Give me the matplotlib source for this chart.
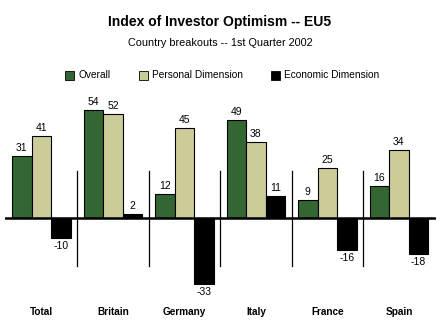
import matplotlib.pyplot as plt
import numpy as np

countries = ["Total", "Britain", "Germany", "Italy", "France", "Spain"]
overall = [31, 54, 12, 49, 9, 16]
personal = [41, 52, 45, 38, 25, 34]
economic = [-10, 2, -33, 11, -16, -18]
series_names = ["Overall", "Personal Dimension", "Economic Dimension"]
colors = ["#336633", "#CCCC99", "#000000"]

plt.rcParams['font.family'] = ['Liberation Sans', 'DejaVu Sans']

fig = plt.figure(figsize=(4.4, 3.3), dpi=100)
ax = fig.add_axes([5 / 440, 32 / 330, 431 / 440, 200 / 330])

x = np.arange(len(countries))
w = 0.273
for k, vals in enumerate([overall, personal, economic]):
    pos = x + (k - 1) * w
    ax.bar(pos, vals, w, color=colors[k], edgecolor="black", linewidth=0.8,
           label=series_names[k], zorder=2)
    for px, v in zip(pos, vals):
        if v >= 0:
            ax.text(px, v + 1.5, str(v), ha="center", va="bottom", fontsize=7.5)
        else:
            ax.text(px, v - 1.5, str(v), ha="center", va="top", fontsize=7.5)

# zero line and group separators
ax.axhline(0, color="black", linewidth=1.8, zorder=3)
for s in x[:-1] + 0.5:
    ax.plot([s, s], [-24, 23.5], color="black", linewidth=0.9)

ax.set_xlim(-0.51, 5.52)
ax.set_ylim(-40, 60)
ax.axis("off")

for xi, name in zip(x, countries):
    fig.text((5 + (xi + 0.51) * 71.5) / 440, 1 - 312 / 330, name,
             ha="center", va="center", fontsize=7.2, fontweight="bold")

fig.text(0.5, 1 - 22 / 330, "Index of Investor Optimism -- EU5",
         ha="center", va="center", fontsize=10, fontweight="bold")
fig.text(0.5, 1 - 43 / 330, "Country breakouts -- 1st Quarter 2002",
         ha="center", va="center", fontsize=7.8)

# legend drawn as squares + text
legend_x = [65, 139, 271]
for lx, name, c in zip(legend_x, series_names, colors):
    fig.patches.append(plt.Rectangle((lx / 440, 1 - 80 / 330), 9 / 440, 9 / 330,
                                     transform=fig.transFigure, facecolor=c,
                                     edgecolor="black", linewidth=0.6))
    fig.text((lx + 13) / 440, 1 - 75 / 330, name, ha="left", va="center", fontsize=7.3)

fig.savefig("out.png", dpi=100)
